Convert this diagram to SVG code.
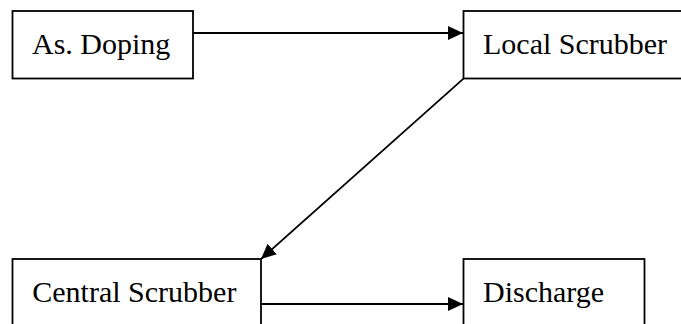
<svg xmlns="http://www.w3.org/2000/svg" width="681" height="324" viewBox="0 0 681 324">
  <style>
    .box { fill: #ffffff; stroke: #000000; stroke-width: 1.8; }
    .label { font-family: "Liberation Serif", "Times New Roman", serif; font-size: 30px; fill: #000000; }
    .wire { fill: none; stroke: #000000; stroke-width: 1.8; marker-end: url(#head); }
  </style>
  <defs>
    <marker id="head" markerUnits="userSpaceOnUse" markerWidth="16" markerHeight="14" refX="15" refY="7" orient="auto">
      <path d="M0,0 L15,7 L0,14 Z" fill="#000000"/>
    </marker>
  </defs>
  <rect width="681" height="324" fill="#ffffff"/>

  <g id="connectors">
    <line class="wire" x1="193" y1="33" x2="463" y2="33"/>
    <line class="wire" x1="463.5" y1="78.7" x2="261" y2="259"/>
    <line class="wire" x1="261" y1="304" x2="463" y2="304"/>
  </g>

  <g id="as-doping">
    <rect class="box" x="12.5" y="11" width="180.5" height="67.5"/>
    <text class="label" x="32" y="54">As. Doping</text>
  </g>

  <g id="local-scrubber">
    <rect class="box" x="463.5" y="11" width="240" height="67.5"/>
    <text class="label" x="483" y="53.5">Local Scrubber</text>
  </g>

  <g id="central-scrubber">
    <rect class="box" x="12.5" y="259" width="248.5" height="80"/>
    <text class="label" x="32.3" y="301.7">Central Scrubber</text>
  </g>

  <g id="discharge">
    <rect class="box" x="463.5" y="259" width="181" height="80"/>
    <text class="label" x="483" y="301.7">Discharge</text>
  </g>
</svg>
